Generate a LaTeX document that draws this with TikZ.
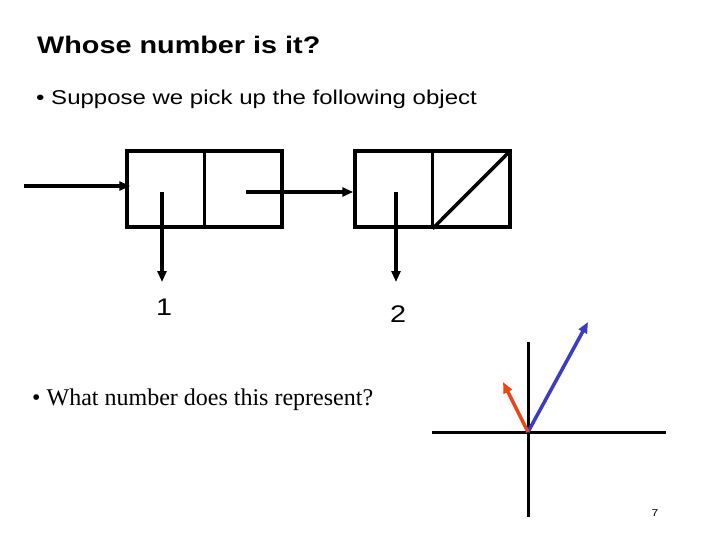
\documentclass[tikz,border=0pt]{standalone}
\usepackage{fontspec}
\setmainfont[FakeStretch=1.2]{Liberation Sans}
\newfontfamily\serifface{Liberation Serif}
\usetikzlibrary{arrows.meta,positioning,calc}

\definecolor{vecblue}{RGB}{60,60,195}
\definecolor{vecred}{RGB}{235,70,20}

\tikzset{
    pair/.style={draw, line width=3.5pt, minimum width=155pt, minimum height=76pt, inner sep=0pt},
    ptr/.style={line width=4pt, -{Triangle[length=11pt,width=9pt]}},
    vec/.style={line width=3.5pt, -{Triangle[length=11pt,width=9pt]}},
    axis/.style={line width=3pt},
    txt/.style={anchor=base west, inner sep=0pt}
}

\begin{document}
\begin{tikzpicture}[x=1pt, y=-1pt]
    \useasboundingbox (0,0) rectangle (720,540);
    \fill [white] (0,0) rectangle (720,540);

    % Text
    \node [txt, font=\bfseries\fontsize{24}{28}\selectfont] (title) at (37,54) {Whose number is it?};
    \node [txt, font=\fontsize{20}{24}\selectfont] (pick) at (36,105) {\textbullet\ Suppose we pick up the following object};
    \node [txt, font=\serifface\fontsize{24}{28}\selectfont] (ask) at (32,405) {\textbullet\ What number does this represent?};

    % Cons cells
    \node [pair] (p1) at (204.5,189) {};
    \node [pair] (p2) at (432.5,189) {};
    \draw [line width=3.5pt] (p1.north) -- (p1.south);
    \draw [line width=3.5pt] (p2.north) -- (p2.south);
    \draw [line width=3.5pt, shorten >=1.5pt] (p2.south) -- (p2.north east); % Empty cdr

    \coordinate (head) at (24,186);
    \coordinate (car1) at (162,192);
    \coordinate (cdr1) at (246,192);
    \coordinate (car2) at (396,192);
    \draw [ptr] (head) -- ($(p1.west |- head)+(5,0)$);
    \draw [ptr] (cdr1) -- (p2.west |- cdr1);

    \node [txt, font=\fontsize{24}{28}\selectfont] (one) at (156,315) {1};
    \node [txt, font=\fontsize{24}{28}\selectfont] (two) at (390,322) {2};
    \draw [ptr] (car1) -- (car1 |- 0,282);
    \draw [ptr] (car2) -- (car2 |- 0,282);

    % Axes
    \coordinate (o) at (528,432);
    \coordinate (xl) at (432,432);
    \coordinate (xr) at (666,432);
    \coordinate (yt) at (528,342);
    \coordinate (yb) at (528,517);
    \draw [axis] (xl) -- (xr);
    \draw [axis] (yt) -- (yb);
    \coordinate (b) at (588,322);
    \coordinate (r) at (503,382);
    \draw [vec, vecblue] (o) -- (b);
    \draw [vec, vecred] (o) -- (r);

    \node [font=\fontsize{10}{12}\selectfont] (page) at (655,513) {7};
\end{tikzpicture}
\end{document}
